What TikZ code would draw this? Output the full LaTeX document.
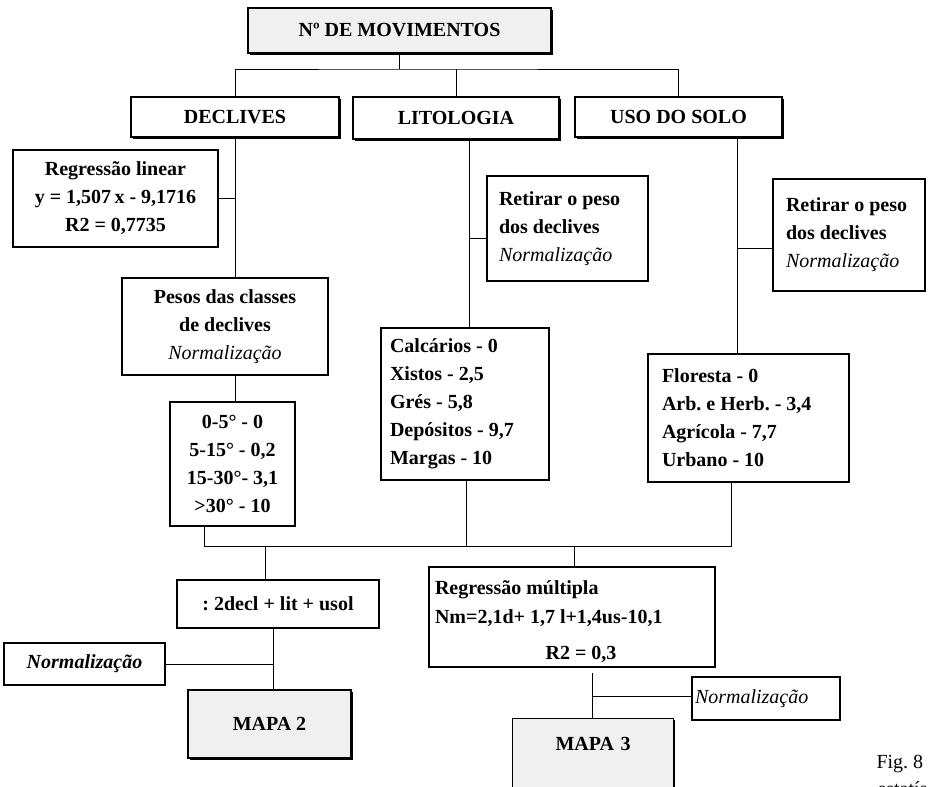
\documentclass[tikz,border=0pt]{standalone}
\usepackage{fontspec}
\setmainfont{Liberation Serif}
\usetikzlibrary{shadows}
\newcommand{\boxfont}{\fontsize{20}{28}\selectfont\frenchspacing}

\begin{document}
\begin{tikzpicture}[x=1pt,y=-1pt,line width=1pt,
	main box/.style={draw,line width=1.2pt,fill=white,inner sep=0pt,align=center,font=\boxfont\bfseries},
	head box/.style={main box,drop shadow={shadow xshift=1.8pt,shadow yshift=-1.8pt,fill=black,opacity=1}},
	title box/.style={head box,fill=gray!12},
	list box/.style={main box,align=flush left}]
				
				\useasboundingbox (0,0) rectangle (929,787);
				
				\node[title box,minimum width=303pt,minimum height=45pt] (mov) at (399.5,30.5) {Nº DE MOVIMENTOS};
				\node[head box,minimum width=208pt,minimum height=40pt] (decl) at (235,117) {DECLIVES};
				\node[head box,minimum width=206pt,minimum height=42pt] (lito) at (456,118) {LITOLOGIA};
				\node[head box,minimum width=207pt,minimum height=40pt] (uso) at (678.5,117) {USO DO SOLO};
				
				\node[main box,minimum width=205pt,minimum height=97pt] (reglin) at (115.5,198.5) {Regressão linear\\y = 1,507\,x - 9,1716\\R2 = 0,7735};
				\node[main box,minimum width=206pt,minimum height=97pt] (pesos) at (225,326.5) {Pesos das classes\\de declives\\{\mdseries\itshape Normalização}};
				\node[main box,minimum width=125pt,minimum height=124pt] (classes) at (232.5,464) {0-5° - 0\\5-15° - 0,2\\15-30°- 3,1\\>30° - 10};
				
				\node[list box,text width=137pt,inner xsep=12pt,minimum height=105pt] (retlit) at (567.5,228.5) {Retirar o peso\\dos declives\\{\mdseries\itshape Normalização}};
				\node[list box,text width=150pt,inner xsep=9pt,minimum height=152pt] (litlist) at (465,404) {Calcários - 0\\Xistos - 2,5\\Grés - 5,8\\Depósitos - 9,7\\Margas - 10};
				
				\node[list box,text width=126pt,inner xsep=13pt,minimum height=112pt] (retuso) at (849,235) {Retirar o peso\\dos declives\\{\mdseries\itshape Normalização}};
				\node[list box,text width=173pt,inner xsep=14pt,minimum height=128pt] (usolist) at (748.5,418) {Floresta - 0\\Arb. e Herb. - 3,4\\Agrícola - 7,7\\Urbano - 10};
				
				\node[main box,minimum width=202pt,minimum height=48pt] (soma) at (278,604) {: 2decl + lit + usol};
				\node[main box,minimum width=161pt,minimum height=42pt,font=\boxfont\bfseries\itshape] (normA) at (84.5,664) {Normalização};
				\node[title box,minimum width=163pt,minimum height=68pt] (mapa2) at (269.5,724) {MAPA 2};
				
				\node[list box,text width=274pt,inner xsep=6pt,minimum height=100pt] (regmul) at (572,617) {\rule{0pt}{24pt}Regressão múltipla\\[1pt]Nm=2,1d+ 1,7 l+1,4us-10,1\\[8pt]\hbox to\hsize{\hss\hspace{18pt}R2 = 0,3\hss}};
				\node[list box,text width=142pt,inner xsep=3pt,minimum height=43pt,font=\boxfont\mdseries\itshape] (normB) at (766,698.5) {Normalização};
				\node[title box,anchor=north west,text width=129pt,inner xsep=16pt,inner ysep=0pt,text height=32pt,text depth=50pt] (mapa3) at (512,718) {MAPA 3};
				
				\node[anchor=base west,inner sep=0pt,font=\boxfont] (fig) at (876,768) {Fig. 8};
				\node[anchor=base west,inner sep=0pt,font=\boxfont] (estat) at (877,795) {estatís};
				
				\coordinate (bar) at (400,69);
				\draw (mov.south) -- (mov.south |- bar);
				\draw (decl.north) |- (bar) -| (uso.north);
				\draw (lito.north) -- (lito.north |- bar);
				
				\draw (decl.south) -- (pesos.north -| decl.south);
				\draw (reglin.east) -- (reglin.east -| decl.south);
				\draw (pesos.south -| decl.south) -- (classes.north -| decl.south);
				
				\coordinate (kl) at (469,238);
				\draw (lito.south -| kl) -- (litlist.north -| kl);
				\draw (kl) -- (retlit.west |- kl);
				\coordinate (ku) at (737,248);
				\draw (uso.south -| ku) -- (usolist.north -| ku);
				\draw (ku) -- (retuso.west |- ku);
				
				\coordinate (jc) at (204,546);
				\coordinate (jl) at (466,546);
				\coordinate (ju) at (731,546);
				\draw (classes.south -| jc) -- (jc) -- (ju) -- (usolist.south -| ju);
				\draw (litlist.south -| jl) -- (jl);
				\coordinate (js) at (265,546);
				\draw (js) -- (soma.north -| js);
				\coordinate (jm) at (574,546);
				\draw (jm) -- (regmul.north -| jm);
				
				\coordinate (j2) at (273,664);
				\draw (soma.south -| j2) -- (mapa2.north -| j2);
				\draw (normA.east) -- (j2);
				\coordinate (j3) at (592,696);
				\coordinate (j3top) at (592,673);
				\draw (j3top) -- (mapa3.north -| j3);
				\draw (j3) -- (normB.west |- j3);
				
				\end{tikzpicture}
\end{document}
